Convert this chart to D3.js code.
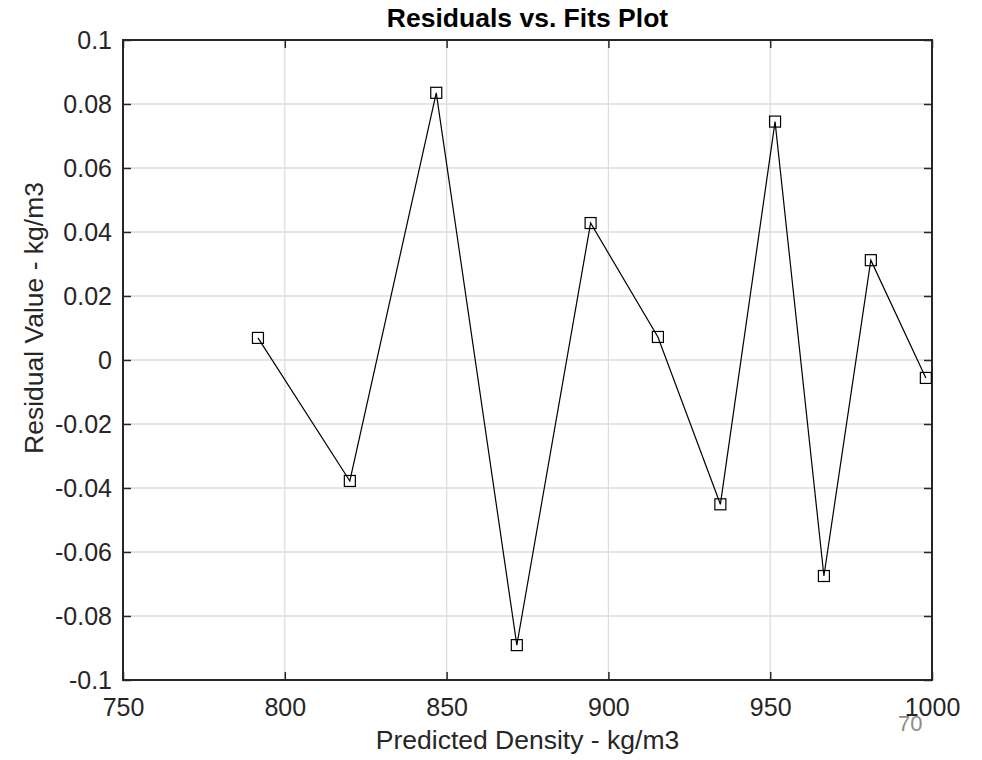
<!DOCTYPE html>
<html>
<head>
<meta charset="utf-8">
<script src="https://cdn.jsdelivr.net/npm/d3@7"></script>
<style>
  body { margin: 0; background: #fff; }
  text { font-family: "Liberation Sans", Arial, Helvetica, sans-serif; }
</style>
</head>
<body>
<svg id="chart" width="982" height="760"></svg>
<script>
// predicted density (kg/m3) and residual values
var fits = [791.7, 820.1, 846.8, 871.7, 894.5, 915.3, 934.6, 951.5, 966.6, 981.1, 998.1];
var residuals = [0.0069, -0.0378, 0.0835, -0.0891, 0.0428, 0.0072, -0.0451, 0.0745, -0.0675, 0.0312, -0.0056];

var xTicks = [750, 800, 850, 900, 950, 1000];
var yTicks = [-0.1, -0.08, -0.06, -0.04, -0.02, 0, 0.02, 0.04, 0.06, 0.08, 0.1];

var svg = d3.select("#chart");
var margin = {left: 123, right: 50, top: 40, bottom: 80};
var width = 982 - margin.left - margin.right,
    height = 760 - margin.top - margin.bottom;

var x = d3.scaleLinear().domain([750, 1000]).range([0, width]);
var y = d3.scaleLinear().domain([-0.1, 0.1]).range([height, 0]);

var g = svg.append("g").attr("transform", "translate(" + margin.left + "," + margin.top + ")");

// grid
g.append("g").selectAll("line")
  .data(xTicks.slice(1, -1)).enter().append("line")
    .attr("x1", d => x(d)).attr("x2", d => x(d))
    .attr("y1", 0).attr("y2", height)
    .attr("stroke", "#dcdcdc").attr("stroke-width", 1.3);
g.append("g").selectAll("line")
  .data(yTicks.slice(1, -1)).enter().append("line")
    .attr("y1", d => y(d)).attr("y2", d => y(d))
    .attr("x1", 0).attr("x2", width)
    .attr("stroke", "#dcdcdc").attr("stroke-width", 1.3);

// axes (ticks pointing inward, mirrored on the top and right)
var fmt = d => String(+d.toFixed(2));
var xAxis = g.append("g").attr("transform", "translate(0," + height + ")")
  .call(d3.axisBottom(x).tickValues(xTicks).tickSizeInner(-8).tickSizeOuter(0).tickPadding(18).tickFormat(fmt));
var yAxis = g.append("g")
  .call(d3.axisLeft(y).tickValues(yTicks).tickSizeInner(-8).tickSizeOuter(0).tickPadding(11).tickFormat(fmt));
var xTop = g.append("g")
  .call(d3.axisTop(x).tickValues(xTicks).tickSizeInner(-8).tickSizeOuter(0).tickFormat(""));
var yRight = g.append("g").attr("transform", "translate(" + width + ",0)")
  .call(d3.axisRight(y).tickValues(yTicks).tickSizeInner(-8).tickSizeOuter(0).tickFormat(""));

[xAxis, yAxis, xTop, yRight].forEach(a => {
  a.attr("font-size", null).attr("font-family", null);
  a.select(".domain").remove();
  a.selectAll("line").attr("stroke", "#262626").attr("stroke-width", 1.5);
  a.selectAll("text").attr("fill", "#262626").style("font-size", "25px");
});

// box
g.append("rect")
  .attr("x", 0).attr("y", 0).attr("width", width).attr("height", height)
  .attr("fill", "none").attr("stroke", "#262626").attr("stroke-width", 2);

// line + square markers
var pts = fits.map((f, i) => [f, residuals[i]]);
g.append("path")
  .datum(pts)
  .attr("fill", "none")
  .attr("stroke", "#000")
  .attr("stroke-width", 1.2)
  .attr("d", d3.line().x(d => x(d[0])).y(d => y(d[1])));

g.selectAll("rect.marker")
  .data(pts).enter().append("rect")
    .attr("class", "marker")
    .attr("x", d => x(d[0]) - 5.5)
    .attr("y", d => y(d[1]) - 5.5)
    .attr("width", 11).attr("height", 11)
    .attr("fill", "none")
    .attr("stroke", "#000")
    .attr("stroke-width", 1.2);

// title and labels
svg.append("text")
  .attr("x", margin.left + width / 2).attr("y", 27)
  .attr("text-anchor", "middle")
  .style("font-size", "26.5px").style("font-weight", "bold")
  .attr("fill", "#000")
  .text("Residuals vs. Fits Plot");

svg.append("text")
  .attr("x", margin.left + width / 2).attr("y", 749)
  .attr("text-anchor", "middle")
  .style("font-size", "26.5px")
  .attr("fill", "#262626")
  .text("Predicted Density - kg/m3");

svg.append("text")
  .attr("transform", "translate(43,318) rotate(-90)")
  .attr("text-anchor", "middle")
  .style("font-size", "26.5px")
  .attr("fill", "#262626")
  .text("Residual Value - kg/m3");

svg.append("text")
  .attr("x", 898).attr("y", 731)
  .style("font-size", "22px")
  .attr("fill", "#8c8c8c")
  .text("70");
</script>
</body>
</html>
